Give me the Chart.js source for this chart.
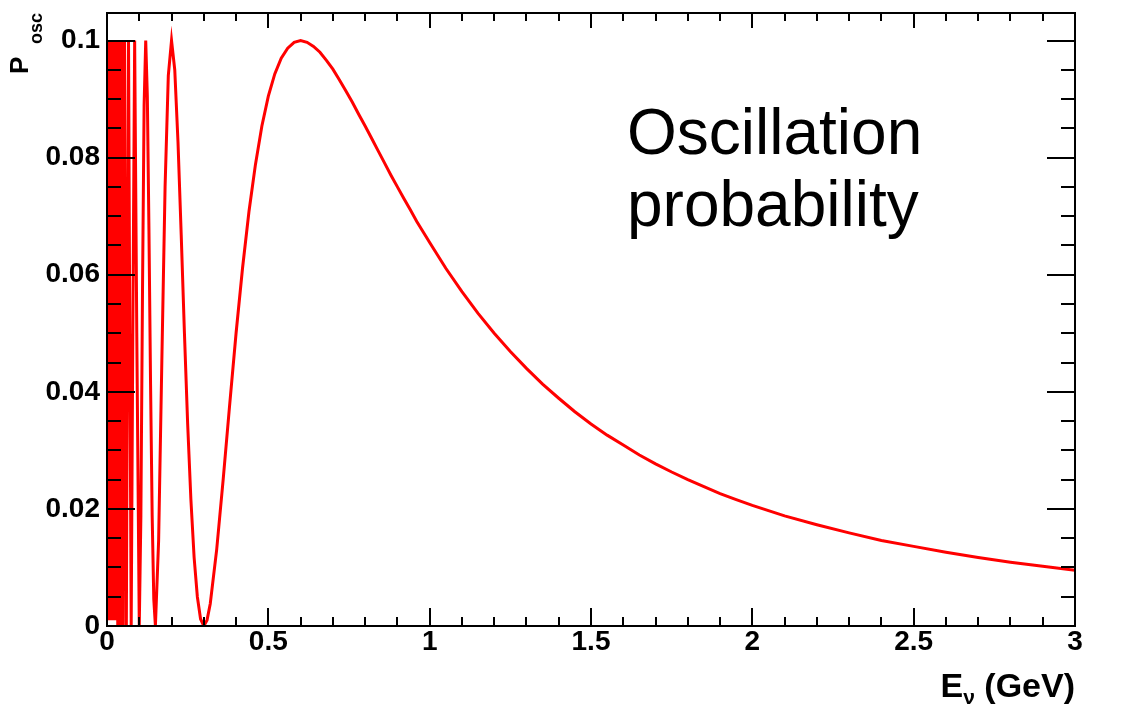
<!DOCTYPE html>
<html>
<head>
<meta charset="utf-8">
<title>Oscillation probability</title>
<script src="https://cdn.jsdelivr.net/npm/chart.js@4.4.1/dist/chart.umd.min.js"></script>
<style>
  html, body { margin: 0; padding: 0; background: #fff; }
  #wrap { width: 1138px; height: 710px; }
</style>
</head>
<body>
<div id="wrap"><canvas id="chart-osc" width="1138" height="710"></canvas></div>
<script>
// Valores: energia (GeV) y probabilidad de oscilacion
const energias = [
  0, 0.0015, 0.003, 0.0045, 0.006, 0.0075, 0.009, 0.0105, 0.012, 0.0135, 0.015,
  0.0165, 0.018, 0.0195, 0.021, 0.0225, 0.024, 0.0255, 0.027, 0.0285, 0.030,
  0.0315, 0.0333, 0.0353, 0.0375, 0.040, 0.0429, 0.0462, 0.050, 0.0545, 0.060,
  0.0667, 0.0706, 0.075, 0.080, 0.0857, 0.0923, 0.100,
  0.105, 0.110, 0.115, 0.120, 0.125, 0.130, 0.135, 0.140, 0.145, 0.150,
  0.160, 0.170, 0.180, 0.190, 0.200, 0.210, 0.220, 0.230, 0.240, 0.250,
  0.260, 0.270, 0.280, 0.290, 0.300, 0.310, 0.320, 0.340, 0.360, 0.380, 0.400,
  0.420, 0.440, 0.460, 0.480, 0.500, 0.520, 0.540, 0.560, 0.580, 0.600,
  0.620, 0.640, 0.660, 0.680, 0.700, 0.720, 0.740, 0.760, 0.780, 0.800,
  0.820, 0.840, 0.860, 0.880, 0.900, 0.920, 0.940, 0.960, 0.980, 1.00,
  1.05, 1.10, 1.15, 1.20, 1.25, 1.30, 1.35, 1.40, 1.45, 1.50,
  1.55, 1.60, 1.65, 1.70, 1.75, 1.80, 1.85, 1.90, 1.95, 2.00,
  2.1, 2.2, 2.3, 2.4, 2.5, 2.6, 2.7, 2.8, 2.9, 3.0
];
const probs = [
  0.1, 0.1, 0.002, 0.1, 0.001, 0.1, 0.003, 0.1, 0.001, 0.1, 0.002,
  0.1, 0.001, 0.1, 0.003, 0.1, 0.001, 0.1, 0.002, 0.1, 0.001,
  0.1, 0.0, 0.1, 0.0, 0.1, 0.0, 0.1, 0.0, 0.1, 0.0,
  0.1, 0.05, 0.0, 0.05, 0.1, 0.05, 0.0,
  0.0188, 0.057, 0.0889, 0.1, 0.0905, 0.0677, 0.0413, 0.0188, 0.0046, 0.0,
  0.0146, 0.0454, 0.075, 0.094, 0.1, 0.095, 0.0827, 0.0668, 0.05, 0.0345,
  0.0216, 0.0117, 0.005, 0.0012, 0.0, 0.001, 0.0038, 0.0131, 0.025, 0.0377, 0.050,
  0.0611, 0.0708, 0.0788, 0.0854, 0.0905, 0.0943, 0.097, 0.0987, 0.0997, 0.1,
  0.0997, 0.099, 0.098, 0.0966, 0.0951, 0.0933, 0.0914, 0.0895, 0.0874, 0.0854,
  0.0833, 0.0812, 0.0791, 0.077, 0.075, 0.073, 0.0711, 0.0691, 0.0673, 0.0655,
  0.0611, 0.0571, 0.0534, 0.050, 0.0469, 0.044, 0.0413, 0.0389, 0.0366, 0.0345,
  0.0326, 0.0309, 0.0292, 0.0277, 0.0263, 0.025, 0.0238, 0.0226, 0.0216, 0.0206,
  0.0188, 0.0173, 0.0159, 0.0146, 0.0136, 0.0126, 0.0117, 0.0109, 0.0102, 0.0095
];

// Marcas de los ejes
const xMayores = [0, 0.5, 1, 1.5, 2, 2.5, 3];
const xEtiquetas = ['0', '0.5', '1', '1.5', '2', '2.5', '3'];
const yMayores = [0, 0.02, 0.04, 0.06, 0.08, 0.1];
const yEtiquetas = ['0', '0.02', '0.04', '0.06', '0.08', '0.1'];

const FUENTE = '"Liberation Sans", Arial, Helvetica, sans-serif';

function idxMayor(v, lista){
  return lista.findIndex(m => Math.abs(m - v) < 1e-6);
}

/* --------- Marco, ticks y titulos estilo ROOT --------- */
const marcoPlugin = {
  id: 'marco',
  afterDatasetsDraw(chart){
    const { ctx, chartArea: a, scales: { x, y } } = chart;
    ctx.save();
    ctx.strokeStyle = '#000';
    ctx.lineWidth = 2;
    ctx.beginPath();
    x.ticks.forEach(t => {
      const px = Math.round(x.getPixelForValue(t.value));
      const mayor = idxMayor(t.value, xMayores) >= 0;
      const lb = mayor ? 18 : 9;
      const lt = mayor ? 15 : 8;
      ctx.moveTo(px, a.bottom); ctx.lineTo(px, a.bottom - lb);
      ctx.moveTo(px, a.top); ctx.lineTo(px, a.top + lt);
    });
    y.ticks.forEach(t => {
      const py = Math.round(y.getPixelForValue(t.value));
      const mayor = idxMayor(t.value, yMayores) >= 0;
      const l = mayor ? 28 : 14;
      ctx.moveTo(a.left, py); ctx.lineTo(a.left + l, py);
      ctx.moveTo(a.right, py); ctx.lineTo(a.right - l, py);
    });
    ctx.stroke();
    ctx.strokeRect(a.left, a.top, a.right - a.left, a.bottom - a.top);

    // texto del recuadro
    ctx.fillStyle = '#000';
    ctx.font = '64px ' + FUENTE;
    ctx.textBaseline = 'alphabetic';
    ctx.textAlign = 'left';
    ctx.fillText('Oscillation', 627, 154);
    ctx.fillText('probability', 627, 226);

    // titulo eje X: E_nu (GeV)
    const xt1 = 'E', xt2 = '\u03BD', xt3 = ' (GeV)';
    ctx.font = 'bold 34px ' + FUENTE;
    const w1 = ctx.measureText(xt1).width;
    const w3 = ctx.measureText(xt3).width;
    ctx.font = 'bold 21px ' + FUENTE;
    const w2 = ctx.measureText(xt2).width;
    const x0 = a.right - (w1 + w2 + w3);
    const base = 697;
    ctx.font = 'bold 34px ' + FUENTE;
    ctx.fillText(xt1, x0, base);
    ctx.fillText(xt3, x0 + w1 + w2, base);
    ctx.font = 'bold 21px ' + FUENTE;
    ctx.fillText(xt2, x0 + w1, base + 7);

    // titulo eje Y: P_osc (rotado)
    ctx.translate(28, 74);
    ctx.rotate(-Math.PI / 2);
    ctx.font = 'bold 26px ' + FUENTE;
    ctx.fillText('P', 0, 0);
    ctx.font = 'bold 18px ' + FUENTE;
    ctx.fillText('osc', 30, 14);
    ctx.restore();
  }
};

const puntos = energias.map((e, i) => ({ x: e, y: probs[i] }));

const ctx = document.getElementById('chart-osc').getContext('2d');
const chartOsc = new Chart(ctx, {
  type: 'line',
  data: {
    datasets: [{
      label: 'P_osc',
      data: puntos,
      borderColor: '#ff0000',
      borderWidth: 3,
      pointRadius: 0,
      tension: 0,
      fill: false
    }]
  },
  options: {
    responsive: false,
    animation: false,
    devicePixelRatio: 1,
    layout: { padding: { top: 13, right: 63, bottom: 0, left: 0 } },
    plugins: {
      legend: { display: false },
      tooltip: { enabled: false }
    },
    scales: {
      x: {
        type: 'linear',
        min: 0, max: 3,
        grid: { display: false, drawTicks: false },
        border: { display: false },
        afterFit: (s) => { s.height = 84; s.paddingLeft = 0; s.paddingRight = 0; },
        ticks: {
          stepSize: 0.1,
          autoSkip: false,
          maxRotation: 0,
          includeBounds: false,
          padding: -1,
          color: '#000',
          font: { family: FUENTE, size: 28, weight: 'bold' },
          callback: (v) => { const i = idxMayor(v, xMayores); return i >= 0 ? xEtiquetas[i] : ''; }
        }
      },
      y: {
        type: 'linear',
        min: 0, max: 0.1047,
        grid: { display: false, drawTicks: false },
        border: { display: false },
        afterFit: (s) => { s.width = 107; s.paddingTop = 0; s.paddingBottom = 0; },
        ticks: {
          stepSize: 0.005,
          autoSkip: false,
          includeBounds: false,
          padding: 7,
          color: '#000',
          font: { family: FUENTE, size: 28, weight: 'bold' },
          callback: (v) => { const i = idxMayor(v, yMayores); return i >= 0 ? yEtiquetas[i] : ''; }
        }
      }
    }
  },
  plugins: [marcoPlugin]
});
</script>
</body>
</html>
